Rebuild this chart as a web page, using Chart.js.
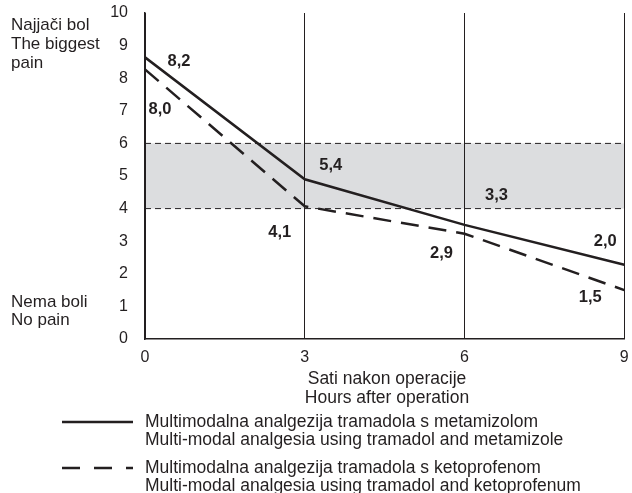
<!DOCTYPE html>
<html lang="hr">
<head>
    <meta charset="UTF-8">
    <title>Bol nakon operacije</title>
    <style>
        body { margin: 0; background: #fff; }
        canvas { display: block; }
    </style>
</head>
<body>
    <canvas id="painChart" width="632" height="493"></canvas>

    <script src="https://cdn.jsdelivr.net/npm/chart.js"></script>
    <script>
        // podaci s grafa
        const hours = [0, 3, 6, 9];
        const metamizol = [8.64, 4.9, 3.5, 2.28];
        const ketoprofen = [8.27, 4.07, 3.23, 1.5];
        const metamizolLabels = ['8,2', '5,4', '3,3', '2,0'];
        const ketoprofenLabels = ['8,0', '4,1', '2,9', '1,5'];
        const bandLow = 4;
        const bandHigh = 6;

        const ink = '#231f20';
        const font = '"Liberation Sans", Arial, sans-serif';

        // pomaci oznaka vrijednosti (px)
        const metamizolOffsets = [[34, 4], [26, -14], [32, -29], [-19, -23]];
        const ketoprofenOffsets = [[15, 40], [-25, 26], [-23, 20], [-34, 7]];

        const bandPlugin = {
            id: 'band',
            beforeDraw(chart) {
                const { ctx, chartArea: a, scales: { y } } = chart;
                const top = y.getPixelForValue(bandHigh);
                const bottom = y.getPixelForValue(bandLow);
                ctx.save();
                ctx.fillStyle = '#dcdddf';
                ctx.fillRect(a.left, top, a.right - a.left, bottom - top);
                ctx.strokeStyle = ink;
                ctx.lineWidth = 1;
                ctx.setLineDash([6, 4]);
                [top, bottom].forEach(py => {
                    ctx.beginPath();
                    ctx.moveTo(a.left, py);
                    ctx.lineTo(a.right, py);
                    ctx.stroke();
                });
                ctx.restore();
            }
        };

        const textPlugin = {
            id: 'texts',
            afterDraw(chart) {
                const { ctx } = chart;
                ctx.save();
                ctx.fillStyle = ink;
                ctx.textBaseline = 'middle';

                // oznake vrijednosti
                ctx.font = 'bold 16.5px ' + font;
                ctx.textAlign = 'center';
                const sets = [[0, metamizolLabels, metamizolOffsets], [1, ketoprofenLabels, ketoprofenOffsets]];
                sets.forEach(([di, labels, offs]) => {
                    chart.getDatasetMeta(di).data.forEach((pt, i) => {
                        ctx.fillText(labels[i], pt.x + offs[i][0], pt.y + offs[i][1]);
                    });
                });

                // naslovi osi
                ctx.font = '17px ' + font;
                ctx.textAlign = 'left';
                ctx.fillText('Najjači bol', 11, 25);
                ctx.fillText('The biggest', 11, 44);
                ctx.fillText('pain', 11, 63);
                ctx.fillText('Nema boli', 11, 302);
                ctx.fillText('No pain', 11, 320);

                ctx.font = '17.5px ' + font;
                ctx.textAlign = 'center';
                ctx.fillText('Sati nakon operacije', 387, 379);
                ctx.fillText('Hours after operation', 387, 398);

                // legenda
                ctx.strokeStyle = ink;
                ctx.lineWidth = 2.5;
                ctx.beginPath();
                ctx.moveTo(62, 422);
                ctx.lineTo(133, 422);
                ctx.stroke();
                ctx.setLineDash([18, 14]);
                ctx.beginPath();
                ctx.moveTo(62, 468);
                ctx.lineTo(133, 468);
                ctx.stroke();
                ctx.setLineDash([]);

                ctx.textAlign = 'left';
                ctx.fillText('Multimodalna analgezija tramadola s metamizolom', 145, 422);
                ctx.fillText('Multi-modal analgesia using tramadol and metamizole', 145, 440);
                ctx.fillText('Multimodalna analgezija tramadola s ketoprofenom', 145, 468);
                ctx.fillText('Multi-modal analgesia using tramadol and ketoprofenum', 145, 486);
                ctx.restore();
            }
        };

        const ctx = document.getElementById('painChart').getContext('2d');
        new Chart(ctx, {
            type: 'line',
            data: {
                datasets: [{
                    data: hours.map((h, i) => ({ x: h, y: metamizol[i] })),
                    borderColor: ink,
                    borderWidth: 2.5,
                    pointRadius: 0,
                    tension: 0
                }, {
                    data: hours.map((h, i) => ({ x: h, y: ketoprofen[i] })),
                    borderColor: ink,
                    borderWidth: 2.5,
                    borderDash: [18, 10],
                    pointRadius: 0,
                    tension: 0
                }]
            },
            options: {
                responsive: false,
                animation: false,
                devicePixelRatio: 1,
                layout: { padding: { top: 13, right: 7.7, left: 0, bottom: 0 } },
                plugins: { legend: { display: false }, tooltip: { enabled: false } },
                scales: {
                    x: {
                        type: 'linear',
                        min: 0,
                        max: 9,
                        afterFit: s => { s.height = 154; s.paddingLeft = 0; s.paddingRight = 0; },
                        ticks: { stepSize: 3, padding: 9, color: ink, font: { size: 16, family: font } },
                        grid: { color: ink, lineWidth: 1, drawTicks: false },
                        border: { color: ink, width: 1.5 }
                    },
                    y: {
                        min: 0,
                        max: 10,
                        afterFit: s => { s.width = 145; s.paddingTop = 0; s.paddingBottom = 0; },
                        ticks: { stepSize: 1, padding: 17, color: ink, font: { size: 16, family: font } },
                        grid: { display: false, drawTicks: false },
                        border: { color: ink, width: 1.5 }
                    }
                }
            },
            plugins: [bandPlugin, textPlugin]
        });
    </script>
</body>
</html>
